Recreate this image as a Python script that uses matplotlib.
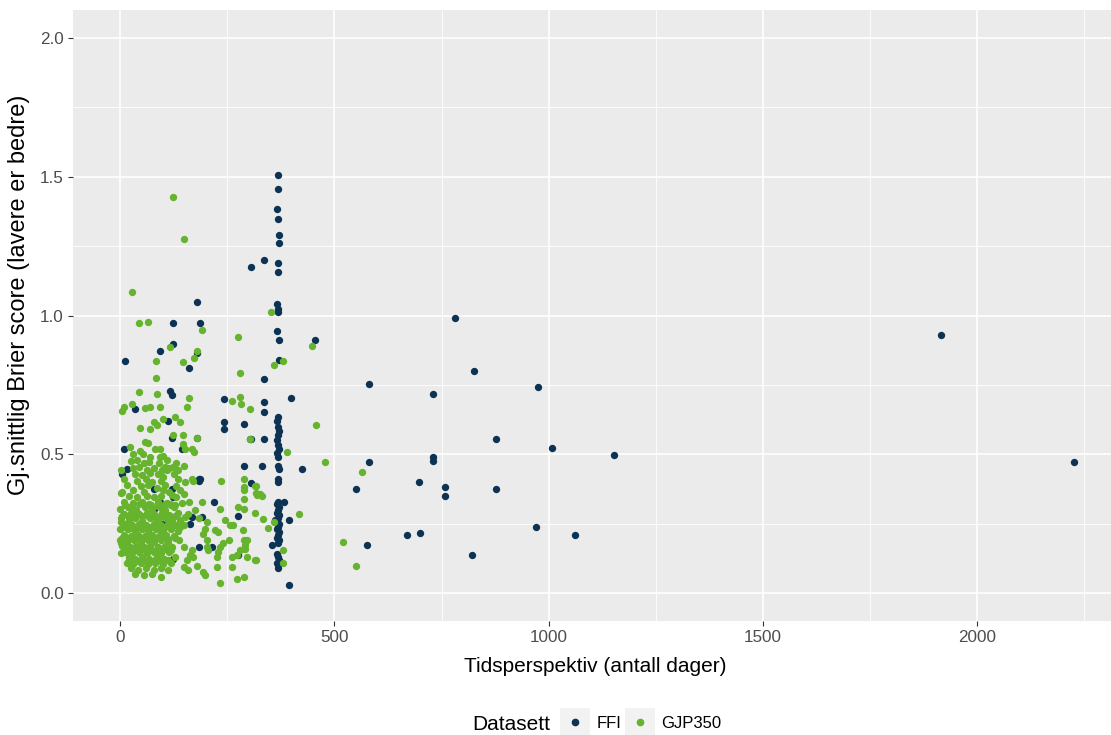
import matplotlib
matplotlib.use("Agg")
import matplotlib.pyplot as plt
from matplotlib.patches import Rectangle
from matplotlib.lines import Line2D
import numpy as np

plt.rcParams['font.family'] = ['Liberation Sans', 'DejaVu Sans']

# ---- Data ----
ffi_x = [369, 369, 367, 369, 371, 371, 369, 369, 365, 369, 369, 367, 371, 371,
         369, 367, 369, 371, 369, 367, 369, 371, 367, 369,
         369, 371, 369, 369,
         369, 367, 371, 369, 367, 371, 369, 367, 371, 369, 367, 371, 369, 367,
         371, 369, 367, 369, 371, 367, 369, 369,
         335, 306, 455, 335, 398, 335, 335, 289, 335, 306, 289, 332, 425, 306,
         382, 395, 355, 395, 362,
         781, 825, 581, 975, 730, 878, 1007, 1153, 730, 730, 581, 550, 697, 759,
         759, 878, 971, 1061, 670, 699, 577, 822, 1916, 2226,
         8, 5, 15, 11, 34, 93, 124, 124, 187, 180, 180, 160, 117, 121, 243, 243,
         243, 111, 121, 180, 303, 144, 78, 121, 184, 184, 124, 93, 78, 218, 190,
         167, 276, 101, 124, 97, 163, 183, 214, 124, 276, 187]
ffi_y = [1.506, 1.455, 1.383, 1.347, 1.291, 1.260, 1.189, 1.158, 1.040, 1.025,
         1.014, 0.943, 0.912, 0.840,
         0.635, 0.620, 0.600, 0.585, 0.570, 0.550, 0.535, 0.520, 0.505, 0.490,
         0.457, 0.447, 0.413, 0.401,
         0.330, 0.320, 0.310, 0.300, 0.290, 0.280, 0.270, 0.260, 0.250, 0.240,
         0.230, 0.220, 0.210, 0.200, 0.190, 0.180, 0.140, 0.130, 0.120, 0.110,
         0.100, 0.090,
         1.199, 1.174, 0.912, 0.770, 0.703, 0.687, 0.651, 0.610, 0.554, 0.554,
         0.457, 0.457, 0.447, 0.396, 0.329, 0.263, 0.173, 0.028, 0.265,
         0.990, 0.800, 0.753, 0.742, 0.717, 0.554, 0.524, 0.498, 0.489, 0.477,
         0.472, 0.375, 0.401, 0.381, 0.350, 0.375, 0.237, 0.211, 0.211, 0.216,
         0.175, 0.139, 0.930, 0.472,
         0.519, 0.431, 0.449, 0.836, 0.662, 0.871, 0.897, 0.974, 0.974, 1.050,
         0.864, 0.810, 0.729, 0.712, 0.698, 0.616, 0.590, 0.621, 0.559, 0.560,
         0.554, 0.519, 0.377, 0.377, 0.413, 0.405, 0.347, 0.329, 0.305, 0.329,
         0.275, 0.275, 0.278, 0.251, 0.245, 0.227, 0.251, 0.167, 0.167, 0.125,
         0.137, 0.413]

gjp_x = [124, 150, 27, 44, 65, 190, 276, 117, 180, 173, 84, 147, 84, 280, 351,
         448, 359, 379, 44, 87, 160, 260, 280, 27, 8, 4, 59, 70, 93, 157, 303,
         283, 101, 128, 140, 80, 87, 47, 70, 124, 147, 180, 303, 457, 59, 66,
         147, 23, 81, 93, 152, 167, 173, 31, 47, 54, 389, 478,
         70, 93, 101, 68, 124, 148, 167, 171, 235, 289, 289, 289, 315, 319, 327,
         289, 148, 191, 233, 276, 288, 315, 333, 418, 358, 346, 105, 109, 97,
         113, 121, 117, 128, 144, 316, 316, 332,
         245, 257, 264, 202, 198, 194, 222, 229, 286, 296, 292, 280, 272, 261,
         253, 241, 233, 229, 226, 226, 261, 315, 272, 289, 233, 202, 202, 206,
         148, 167, 163, 156, 171, 148, 159, 179, 194, 198, 140, 148, 152, 159,
         379, 379, 521, 551, 564, 316, 289, 292, 296,
         25, 40, 55, 90, 110, 130,
         30, 45, 62, 80, 115, 135,
         35, 52, 70, 88, 100, 125,
         10, 40, 60, 75, 95, 135, 152,
         15, 48, 65, 85, 105, 130,
         5, 30, 55, 100, 140,
         20, 40, 62, 80, 95, 130,
         10, 30, 50, 68, 88, 110, 160,
         0, 18, 38, 58, 75, 92, 105, 125, 175,
         8, 25, 45, 62, 80, 98, 115, 135,
         3, 20, 35, 52, 70, 88, 105, 122, 140, 185,
         12, 28, 45, 60, 78, 95, 112, 130,
         0, 18, 35, 50, 66, 84, 100, 118, 135,
         8, 25, 42, 58, 74, 90, 108, 125,
         0, 15, 32, 48, 64, 80, 96, 112, 138,
         5, 22, 38, 55, 70, 88, 104, 122,
         12, 28, 45, 62, 78, 95, 115,
         20, 35, 52, 68, 85, 102, 128,
         15, 30, 48, 65, 82, 100, 118,
         25, 42, 60, 78, 95, 112,
         35, 55, 75, 95,
         12, 28, 44, 58, 72, 88, 104, 118,
         4, 20, 36, 52, 66, 82, 96, 112, 128,
         12, 28, 44, 58, 72, 88, 104, 118,
         4, 20, 36, 52, 66, 82, 96, 112, 128,
         12, 28, 44, 58, 72, 88, 104, 118,
         20, 36, 52, 66, 82, 96, 112,
         1, 2, 1, 3, 2]
gjp_y = [1.425, 1.276, 1.086, 0.974, 0.978, 0.948, 0.924, 0.888, 0.871, 0.846,
         0.836, 0.831, 0.774, 0.792, 1.014, 0.891, 0.822, 0.835, 0.723, 0.718,
         0.703, 0.692, 0.707, 0.683, 0.671, 0.656, 0.667, 0.671, 0.671, 0.671,
         0.662, 0.680, 0.626, 0.635, 0.615, 0.617, 0.605, 0.595, 0.590, 0.569,
         0.569, 0.560, 0.554, 0.605, 0.545, 0.542, 0.539, 0.527, 0.521, 0.519,
         0.519, 0.519, 0.509, 0.501, 0.513, 0.503, 0.509, 0.473,
         0.490, 0.490, 0.495, 0.473, 0.455, 0.458, 0.413, 0.405, 0.405, 0.413,
         0.383, 0.371, 0.386, 0.353, 0.359, 0.338, 0.359, 0.329, 0.302, 0.311,
         0.305, 0.289, 0.266, 0.285, 0.257, 0.235, 0.455, 0.443, 0.443, 0.365,
         0.353, 0.323, 0.317, 0.325, 0.386, 0.360, 0.350,
         0.263, 0.245, 0.245, 0.257, 0.233, 0.215, 0.227, 0.221, 0.227, 0.191,
         0.173, 0.155, 0.137, 0.131, 0.191, 0.181, 0.165, 0.149, 0.131, 0.095,
         0.095, 0.121, 0.053, 0.059, 0.037, 0.191, 0.167, 0.155, 0.167, 0.155,
         0.137, 0.119, 0.131, 0.095, 0.083, 0.097, 0.077, 0.065, 0.239, 0.245,
         0.275, 0.287,
         0.155, 0.109, 0.186, 0.098, 0.436, 0.119, 0.190, 0.160, 0.130,
         0.475, 0.480, 0.470, 0.470, 0.478, 0.470,
         0.450, 0.455, 0.445, 0.452, 0.450, 0.445,
         0.430, 0.425, 0.432, 0.428, 0.420, 0.428,
         0.410, 0.405, 0.410, 0.400, 0.405, 0.410, 0.400,
         0.390, 0.385, 0.390, 0.380, 0.390, 0.385,
         0.365, 0.370, 0.365, 0.370, 0.370,
         0.350, 0.345, 0.350, 0.345, 0.350, 0.345,
         0.330, 0.325, 0.330, 0.320, 0.330, 0.325, 0.330,
         0.305, 0.310, 0.300, 0.310, 0.305, 0.310, 0.300, 0.310, 0.300,
         0.285, 0.290, 0.285, 0.290, 0.285, 0.290, 0.280, 0.290,
         0.270, 0.265, 0.270, 0.260, 0.270, 0.265, 0.270, 0.260, 0.265, 0.270,
         0.250, 0.245, 0.250, 0.245, 0.250, 0.245, 0.250, 0.245,
         0.230, 0.230, 0.225, 0.230, 0.225, 0.230, 0.225, 0.230, 0.225,
         0.210, 0.205, 0.210, 0.205, 0.210, 0.205, 0.210, 0.205,
         0.190, 0.185, 0.190, 0.185, 0.190, 0.185, 0.190, 0.185, 0.190,
         0.170, 0.165, 0.170, 0.165, 0.170, 0.165, 0.170, 0.165,
         0.150, 0.145, 0.150, 0.145, 0.150, 0.145, 0.150,
         0.130, 0.125, 0.130, 0.125, 0.130, 0.125, 0.130,
         0.110, 0.105, 0.110, 0.105, 0.110, 0.105, 0.110,
         0.090, 0.085, 0.090, 0.085, 0.090, 0.085,
         0.070, 0.065, 0.070, 0.060,
         0.318, 0.315, 0.320, 0.316, 0.318, 0.314, 0.320, 0.316,
         0.278, 0.276, 0.280, 0.277, 0.278, 0.275, 0.280, 0.276, 0.278,
         0.238, 0.236, 0.240, 0.237, 0.238, 0.235, 0.240, 0.236,
         0.198, 0.196, 0.200, 0.197, 0.198, 0.195, 0.200, 0.196, 0.198,
         0.158, 0.156, 0.160, 0.157, 0.158, 0.155, 0.160, 0.156,
         0.118, 0.116, 0.120, 0.117, 0.118, 0.115, 0.120,
         0.445, 0.360, 0.255, 0.180, 0.145]

series_names = ["FFI", "GJP350"]
x_ticks = [0, 500, 1000, 1500, 2000]
y_ticks = [0.0, 0.5, 1.0, 1.5, 2.0]

FFI_COL = "#0d3354"
GJP_COL = "#66b32e"
BG = "#EBEBEB"

W, H = 1111, 735
fig = plt.figure(figsize=(W / 100, H / 100), dpi=100)
ax = fig.add_axes([73 / W, 1 - 621 / H, (W - 73) / W, 611 / H])
ax.set_facecolor(BG)
ax.set_xlim(-110, 2312)
ax.set_ylim(-0.1, 2.1)

for xm in [250, 750, 1250, 1750, 2250]:
    ax.axvline(xm, color="white", lw=0.6, zorder=0)
for ym in [0.25, 0.75, 1.25, 1.75]:
    ax.axhline(ym, color="white", lw=0.6, zorder=0)
for xm in x_ticks:
    ax.axvline(xm, color="white", lw=1.2, zorder=0)
for ym in y_ticks:
    ax.axhline(ym, color="white", lw=1.2, zorder=0)

ax.scatter(ffi_x, ffi_y, s=28, color=FFI_COL, linewidths=0, zorder=2)
ax.scatter(gjp_x, gjp_y, s=28, color=GJP_COL, linewidths=0, zorder=3)

for s in ax.spines.values():
    s.set_visible(False)
ax.set_xticks(x_ticks)
ax.set_xticklabels([str(t) for t in x_ticks])
ax.set_yticks(y_ticks)
ax.set_yticklabels([f"{t:.1f}" for t in y_ticks])
ax.tick_params(axis="both", colors="#333333", labelcolor="#4D4D4D",
               labelsize=12.3, length=3.5, width=0.8, pad=3)

# Axis titles
fig.text(595 / W, 1 - 666 / H, "Tidsperspektiv (antall dager)", fontsize=15,
         ha="center", va="center", color="black")
fig.text(19 / W, 1 - 295 / H, "Gj.snittlig Brier score (lavere er bedre)",
         fontsize=17, rotation=90, ha="center", va="center", color="black")

# Legend (ggplot style, bottom)
fig.text(511 / W, 1 - 724 / H, "Datasett", fontsize=15, ha="center",
         va="center", color="black")
keys = [(560, FFI_COL, series_names[0], 597), (625, GJP_COL, series_names[1], 661)]
for kx, col, lab, tx in keys:
    fig.patches.append(Rectangle((kx / W, 1 - 740 / H), 30 / W, 32 / H,
                                 transform=fig.transFigure,
                                 facecolor="#F2F2F2", edgecolor="none"))
    fig.add_artist(Line2D([(kx + 15) / W], [1 - 722 / H], marker="o",
                          markersize=4.5, color=col, linestyle="none",
                          transform=fig.transFigure))
    fig.text(tx / W, 1 - 724 / H, lab, fontsize=12, ha="left", va="center",
             color="black")

fig.savefig("out.png", dpi=100)
